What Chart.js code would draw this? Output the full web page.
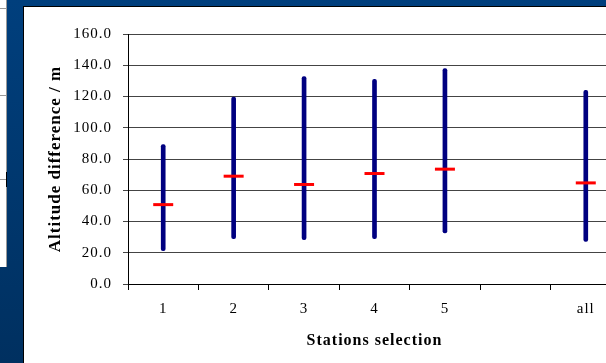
<!DOCTYPE html>
<html>
<head>
<meta charset="utf-8">
<script src="https://cdn.jsdelivr.net/npm/chart.js@4"></script>
<style>
  html, body { margin: 0; padding: 0; }
  body {
    width: 606px; height: 363px; overflow: hidden; position: relative;
    background: linear-gradient(#003f7d, #003060);
  }
  #strip { position: absolute; left: 0; top: 0; width: 6px; height: 267px; background: #fff; border-right: 1px solid #999; }
  .hl { position: absolute; left: 0; width: 6px; height: 1px; background: #999; }
  #mark { position: absolute; left: 6px; top: 172px; width: 1px; height: 15px; background: #000; }
  #panel { position: absolute; left: 23px; top: 6px; right: -20px; bottom: -20px; background: #fff; border-left: 1px solid #000; border-top: 1px solid #000; }
  #myChart { position: absolute; left: 24px; top: 7px; }
</style>
</head>
<body>
<div id="strip"></div>
<div class="hl" style="top:8px"></div>
<div class="hl" style="top:95px"></div>
<div class="hl" style="top:179px"></div>
<div id="mark"></div>
<div id="panel"></div>
<canvas id="myChart" width="610" height="356"></canvas>
<script>
const stations = ["1", "2", "3", "4", "5", "", "all"];
const minValues = [21.3, 29, 28.4, 29, 32.7, null, 27.3];
const maxValues = [89.3, 119.6, 132.7, 131, 137.8, null, 123.9];
const meanValues = [50.8, 69, 63.7, 70.7, 73.5, null, 64.7];
const yTicks = [0, 20, 40, 60, 80, 100, 120, 140, 160];

const serif = "'Liberation Serif', 'Times New Roman', serif";

// the original text is drawn slightly letter-spaced
const spacing = {
	id: "spacing",
	beforeDraw(chart) {
		chart.ctx.letterSpacing = "1px";
	},
	beforeDatasetsDraw(chart) {
		chart.ctx.letterSpacing = "0px";
	},
};

const data = {
	labels: stations,
	datasets: [
		{
			type: "line",
			data: meanValues,
			showLine: false,
			pointStyle: "line",
			pointRadius: 10,
			pointHoverRadius: 10,
			pointBorderWidth: 3,
			borderColor: "#ff0000",
			backgroundColor: "#ff0000",
			order: 0,
		},
		{
			type: "bar",
			data: minValues.map((v, i) => (v === null ? null : [v, maxValues[i]])),
			backgroundColor: "#000080",
			barThickness: 4,
			borderRadius: 2,
			borderSkipped: false,
			order: 1,
		},
	],
};

const config = {
	data,
	options: {
		responsive: false,
		animation: false,
		layout: { padding: { top: 27, right: 3, left: 0, bottom: 0 } },
		plugins: {
			legend: { display: false },
			tooltip: { enabled: false },
		},
		scales: {
			x: {
				offset: true,
				grid: {
					offset: true,
					drawOnChartArea: false,
					drawTicks: true,
					tickLength: 6,
					color: "#000",
				},
				border: { color: "#000", width: 1 },
				ticks: {
					color: "#000",
					padding: 10,
					font: { family: serif, size: 15 },
				},
				title: {
					display: true,
					text: "Stations selection",
					color: "#000",
					font: { family: serif, size: 16, weight: "bold" },
					padding: { top: 0, bottom: 13 },
				},
				afterFit(scale) {
					scale.height = 79;
				},
			},
			y: {
				min: 0,
				max: 160,
				afterBuildTicks(scale) {
					scale.ticks = yTicks.map((v) => ({ value: v }));
				},
				grid: {
					color: "#444",
					tickLength: 5,
				},
				border: { color: "#000", width: 1 },
				ticks: {
					color: "#000",
					padding: 11,
					font: { family: serif, size: 15 },
					callback: (v) => Number(v).toFixed(1),
				},
				title: {
					display: true,
					text: "Altitude difference / m",
					color: "#000",
					font: { family: serif, size: 17, weight: "bold" },
					padding: { top: 21, bottom: 0 },
				},
				afterFit(scale) {
					scale.width = 104;
				},
			},
		},
	},
	plugins: [spacing],
};

var myChart = new Chart(document.getElementById("myChart"), config);
</script>
</body>
</html>
